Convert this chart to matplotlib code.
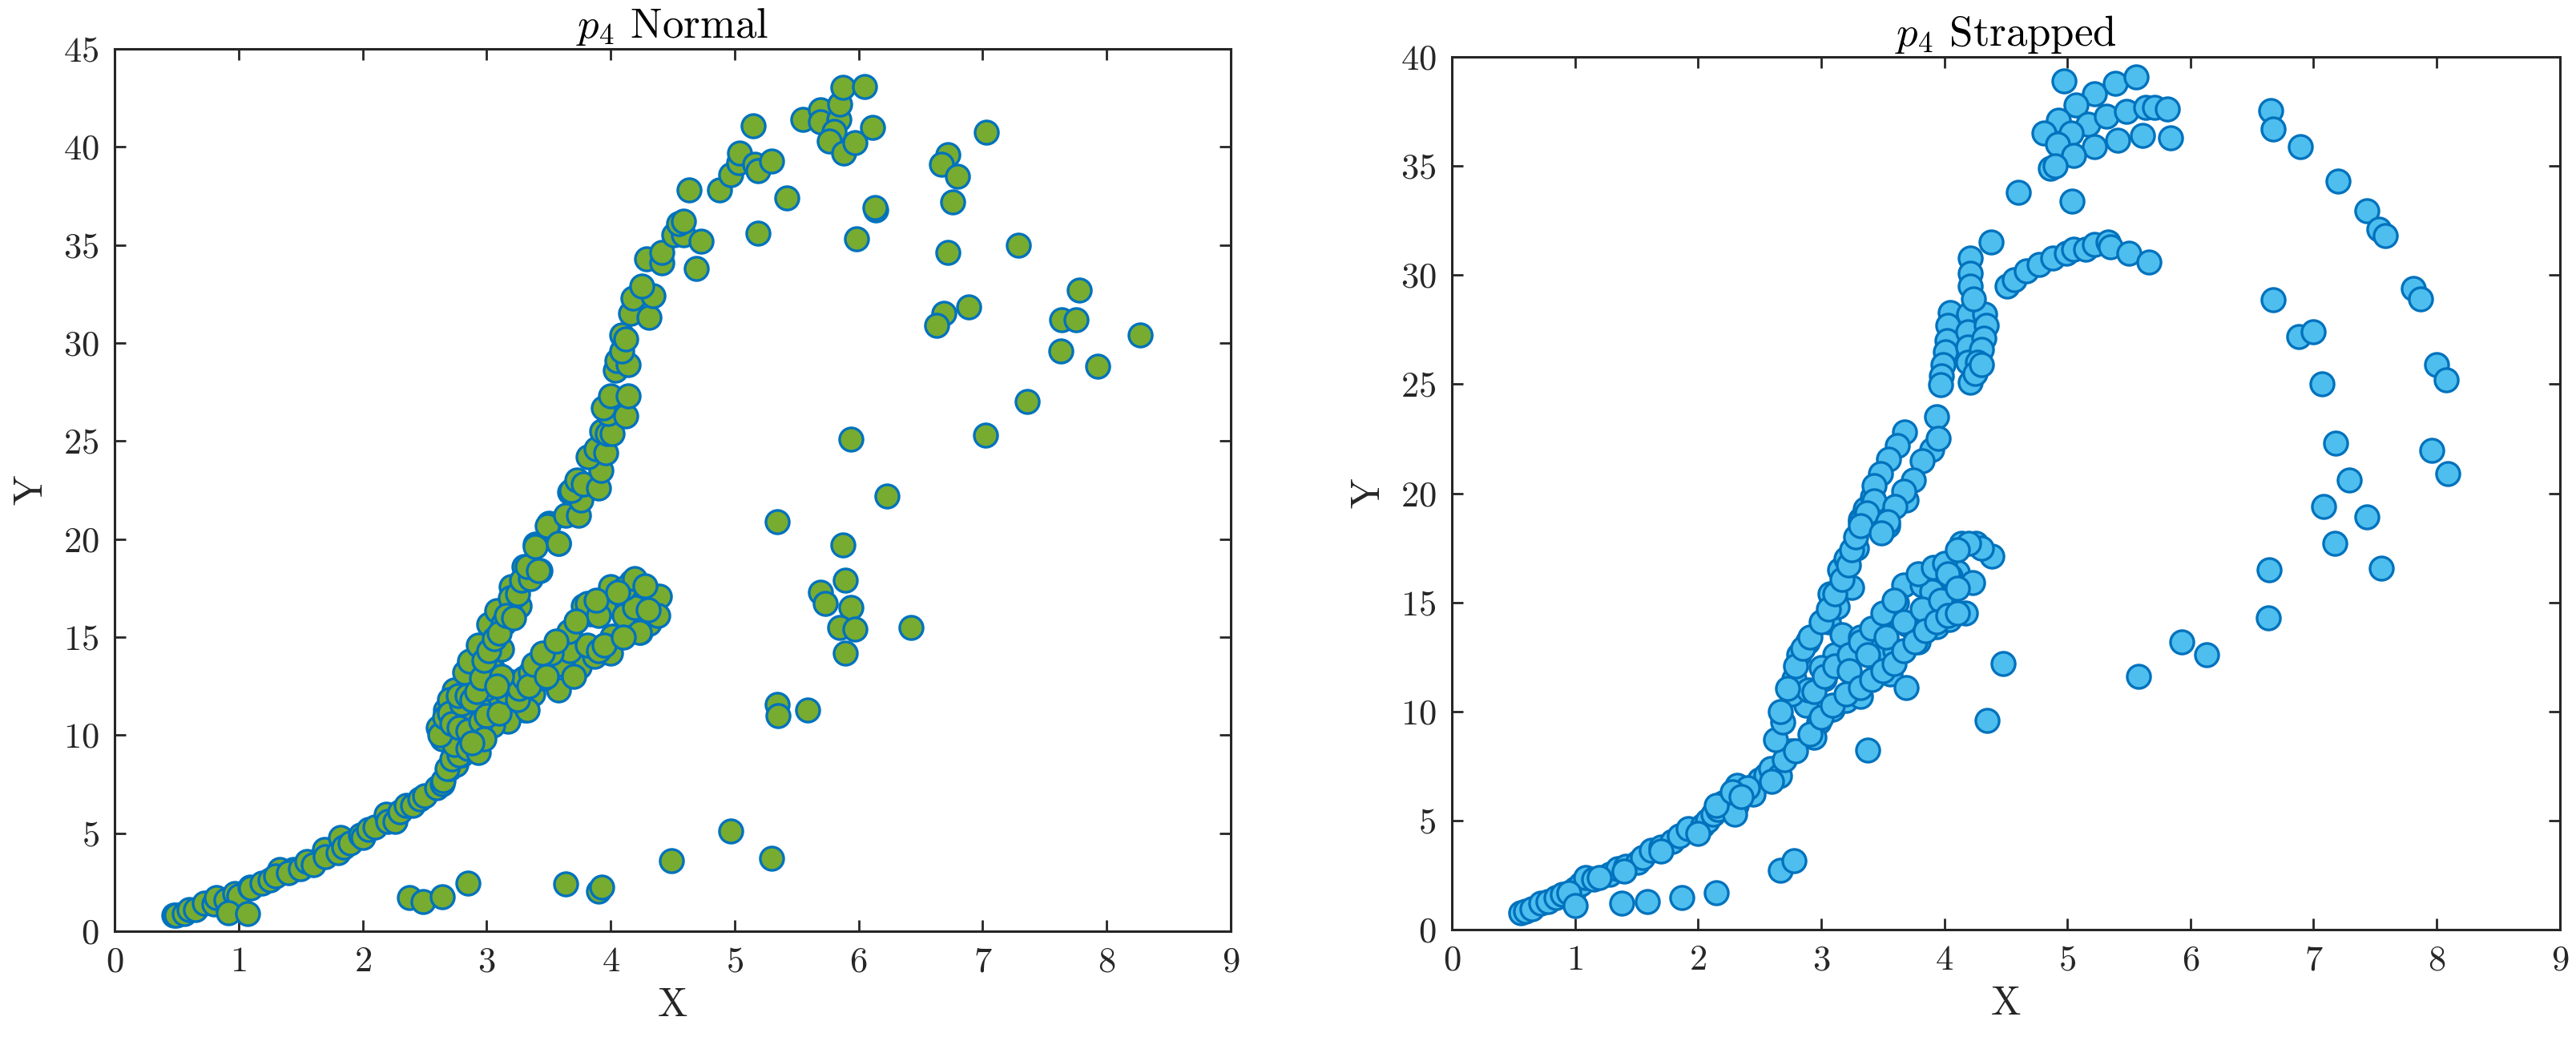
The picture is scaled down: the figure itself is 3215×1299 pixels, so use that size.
import matplotlib

matplotlib.use("Agg")
import matplotlib.pyplot as plt
import numpy as np

plt.rcParams["font.family"] = "serif"
plt.rcParams["font.serif"] = ["cmr10", "DejaVu Serif"]
plt.rcParams["mathtext.fontset"] = "cm"
plt.rcParams["axes.unicode_minus"] = False
plt.rcParams["axes.formatter.use_mathtext"] = True

# ---- p4 Normal (left) ----
normal_trunk = [(0.48, 0.82), (0.50, 0.80), (0.56, 0.90), (0.60, 1.09), (0.65, 1.10), (0.72, 1.43),
                (0.80, 1.40), (0.82, 1.70), (0.90, 1.60), (0.97, 1.91), (1.00, 1.80), (1.09, 2.25),
                (1.10, 2.20), (1.19, 2.45), (1.25, 2.60), (1.33, 3.13), (1.30, 2.80), (1.44, 3.13),
                (1.40, 3.00), (1.50, 3.20), (1.55, 3.54), (1.60, 3.40), (1.69, 4.16), (1.70, 3.80),
                (1.80, 4.00), (1.82, 4.80), (1.85, 4.30), (1.90, 4.50), (1.98, 4.90), (2.00, 4.80),
                (2.05, 5.20), (2.10, 5.30), (2.19, 5.95), (2.20, 5.60), (2.26, 5.60), (2.30, 6.10),
                (2.35, 6.40), (2.40, 6.40), (2.46, 6.75), (2.50, 6.90), (2.60, 7.30), (2.64, 7.50),
                (2.65, 7.70), (2.70, 8.30), (2.75, 8.50), (2.80, 9.00), (0.92, 0.94), (1.07, 0.90),
                (2.68, 8.3), (2.72, 8.8), (2.78, 9.0)]
normal_band = [(2.61, 10.4), (2.64, 9.8), (2.73, 10.2), (2.74, 9.54), (2.85, 9.3), (2.90, 9.67),
               (2.93, 9.1), (2.67, 11.3), (2.82, 11.2), (2.93, 11.2), (2.99, 11.4), (2.74, 12.3),
               (2.89, 12.8), (2.82, 13.2), (3.05, 13.35), (2.86, 13.76), (2.93, 14.6), (3.12, 14.4),
               (3.02, 15.67), (3.14, 15.7), (3.08, 16.35), (3.26, 16.6), (3.21, 17.0), (3.20, 17.57),
               (3.30, 18.6), (3.43, 18.4), (3.39, 19.75), (3.58, 19.8), (3.20, 12.7), (3.18, 11.4),
               (3.31, 11.3), (3.37, 12.1), (3.17, 10.7), (3.05, 10.5), (3.05, 13.3), (3.13, 15.7),
               (3.19, 17.0), (3.33, 11.3), (3.19, 12.7), (2.95, 10.0), (2.80, 10.8), (3.10, 12.0),
               (2.70, 11.8), (3.00, 12.4), (2.62, 10.0), (2.66, 10.9), (2.70, 11.1), (2.72, 10.6),
               (2.78, 10.4), (2.80, 11.6), (2.77, 12.0), (2.84, 12.0), (2.88, 11.8), (2.92, 12.2),
               (2.96, 12.9), (2.98, 13.8), (3.02, 14.3), (3.06, 14.9), (3.10, 15.2), (3.16, 16.1),
               (3.22, 16.0), (3.25, 17.2), (3.28, 17.9), (3.35, 18.0), (2.85, 10.2), (2.95, 10.7),
               (3.00, 11.0), (3.10, 11.1), (3.15, 12.2), (3.25, 11.8), (3.26, 12.4), (3.30, 12.9),
               (3.35, 13.2), (3.12, 13.0), (3.08, 12.5), (2.98, 9.8), (2.88, 9.6)]
normal_upper = [(3.33, 18.6), (3.42, 18.4), (3.39, 19.6), (3.50, 20.8), (3.49, 20.7), (3.58, 19.8),
                (3.64, 21.2), (3.74, 21.2), (3.67, 22.4), (3.76, 22.0), (3.68, 22.5), (3.73, 23.0),
                (3.78, 22.8), (3.90, 22.6), (3.92, 23.5), (3.82, 24.2), (3.88, 24.6), (3.96, 24.4),
                (3.93, 25.5), (3.97, 25.4), (4.01, 25.4), (3.96, 26.7), (3.98, 26.4), (4.12, 26.3),
                (3.94, 26.7), (4.00, 27.3), (4.14, 27.3), (4.04, 28.6), (4.05, 29.1), (4.14, 28.9),
                (4.09, 29.6), (4.09, 30.4), (4.12, 30.2), (4.16, 31.5), (4.31, 31.3), (4.18, 32.3),
                (4.34, 32.4), (4.25, 32.9), (4.29, 34.3), (4.41, 34.1), (4.41, 34.6), (4.51, 35.5),
                (4.59, 35.5), (4.55, 36.1), (4.59, 36.2), (4.73, 35.2), (4.69, 33.8), (4.63, 37.8),
                (4.88, 37.8), (4.97, 38.6), (5.03, 39.2), (5.04, 39.7), (5.16, 39.1), (5.19, 38.8),
                (5.30, 39.3), (5.42, 37.4), (5.19, 35.6), (5.15, 41.07), (5.55, 41.4), (5.69, 41.9),
                (5.69, 41.3), (5.84, 41.4), (5.85, 42.2), (5.80, 40.8), (5.76, 40.3), (5.88, 39.7),
                (5.97, 40.2), (6.11, 41.0), (5.87, 43.05), (6.05, 43.1), (6.14, 36.8), (5.98, 35.3)]
normal_loop = [(3.40, 13.56), (3.52, 14.1), (3.58, 12.3), (3.67, 15.2), (3.78, 16.6), (3.75, 13.5),
               (3.87, 14.0), (3.84, 16.2), (4.00, 17.57), (3.95, 16.5), (4.02, 15.05), (4.00, 14.2),
               (4.17, 17.8), (4.19, 17.7), (4.24, 15.25), (4.37, 17.1), (4.36, 16.1), (4.31, 15.7),
               (4.11, 16.1), (4.19, 16.5), (3.61, 13.6), (3.46, 12.9), (3.34, 12.5), (3.67, 14.3),
               (3.81, 14.6), (3.90, 14.3), (4.39, 17.1), (4.38, 16.1), (4.23, 15.25), (4.01, 15.05),
               (3.38, 13.6), (3.66, 15.3), (3.81, 16.7), (3.90, 16.1), (4.11, 17.5), (3.52, 14.2),
               (4.19, 18.0), (3.45, 14.2), (3.56, 14.8), (3.72, 15.8), (3.88, 16.9), (4.06, 17.3),
               (4.28, 17.6), (3.48, 13.0), (3.70, 13.0), (3.95, 14.6), (4.10, 15.0), (4.30, 16.4)]
normal_scatter = [(7.03, 40.75), (6.72, 39.6), (6.67, 39.1), (6.80, 38.5), (6.76, 37.2), (6.72, 34.6),
                  (7.29, 35.0), (7.78, 32.7), (7.64, 31.2), (7.75, 31.2), (8.27, 30.4), (7.63, 29.6),
                  (7.93, 28.8), (6.89, 31.85), (6.69, 31.5), (6.63, 30.9), (7.36, 27.0), (7.02, 25.3),
                  (6.42, 15.5), (6.23, 22.2), (5.94, 25.1), (5.34, 20.9), (5.87, 19.7), (5.89, 17.9),
                  (5.69, 17.3), (5.73, 16.7), (5.94, 16.5), (5.85, 15.5), (5.97, 15.4), (5.89, 14.2),
                  (5.34, 11.55), (5.35, 11.0), (5.59, 11.3), (5.30, 3.7), (4.97, 5.1), (6.13, 36.9),
                  (2.38, 1.7), (2.49, 1.5), (2.64, 1.77), (2.85, 2.45), (3.64, 2.4), (3.90, 2.04),
                  (3.93, 2.25), (4.49, 3.6)]

# ---- p4 Strapped (right) ----
strap_trunk = [(0.56, 0.76), (0.60, 0.85), (0.65, 0.95), (0.72, 1.22), (0.78, 1.30), (0.85, 1.48),
               (0.90, 1.60), (1.00, 1.87), (1.05, 2.10), (1.09, 2.40), (1.15, 2.30), (1.28, 2.53),
               (1.35, 2.80), (1.41, 2.92), (1.51, 3.10), (1.55, 3.30), (1.62, 3.65), (1.70, 3.80),
               (1.79, 4.04), (1.85, 4.30), (1.92, 4.63), (2.04, 4.76), (2.08, 5.00), (2.12, 5.29),
               (2.16, 5.50), (2.20, 5.80), (2.25, 6.00), (2.31, 5.70), (2.32, 6.60), (2.39, 6.20),
               (2.50, 6.86), (2.55, 7.10), (2.59, 7.40), (2.66, 7.06), (2.76, 8.20), (2.70, 7.80),
               (1.70, 3.60), (2.30, 5.30), (2.45, 6.20), (2.60, 6.80), (2.00, 4.40), (1.40, 2.70),
               (1.20, 2.40), (0.95, 1.70), (2.15, 5.70), (2.40, 6.50), (2.28, 6.30), (2.35, 6.10)]
strap_low = [(1.00, 1.09), (1.38, 1.22), (1.59, 1.29), (1.87, 1.47), (2.15, 1.70), (2.67, 2.73),
             (2.78, 3.15), (3.38, 8.24), (4.35, 9.6), (4.48, 12.2)]
strap_branches = [(2.63, 8.7), (2.69, 9.5), (2.88, 10.3), (2.78, 11.5), (2.76, 10.8), (2.82, 12.6),
                  (2.89, 13.2), (3.03, 11.5), (3.09, 10.1), (2.98, 9.5), (2.94, 8.8), (3.11, 12.6),
                  (3.06, 14.1), (3.17, 13.5), (3.25, 15.7), (3.29, 17.5), (3.42, 19.6), (3.32, 18.8),
                  (3.07, 15.4), (3.32, 13.4), (3.20, 10.5), (3.32, 10.7), (3.48, 13.6), (3.44, 12.8),
                  (3.60, 12.8), (3.56, 11.7), (3.69, 11.1), (3.67, 15.8), (3.82, 15.8), (3.79, 13.2),
                  (3.94, 13.9), (4.01, 15.9), (4.11, 16.4), (4.23, 15.9), (4.17, 14.5), (4.04, 14.2),
                  (4.14, 17.7), (4.26, 17.7), (4.39, 17.1), (3.53, 14.5), (3.61, 15.0), (3.54, 18.5),
                  (3.69, 19.7), (3.15, 16.5), (3.20, 17.0), (2.90, 11.0), (3.00, 12.0), (3.13, 14.8),
                  (3.85, 14.5), (3.70, 14.0), (4.30, 17.5), (4.20, 17.7), (4.05, 16.2), (3.90, 15.5),
                  # left strand
                  (2.67, 10.0), (2.73, 11.06), (2.79, 12.1), (2.85, 12.9), (2.91, 13.4), (3.00, 14.1),
                  (3.06, 14.7), (3.11, 15.4), (3.17, 16.05), (3.22, 16.7), (3.25, 17.4), (3.28, 18.0),
                  (3.32, 18.7), (3.36, 19.3), (3.42, 19.85),
                  # middle strands
                  (2.94, 10.9), (3.03, 11.6), (3.11, 12.1), (3.23, 12.6), (3.32, 13.2), (3.41, 13.8),
                  (3.50, 14.5), (3.59, 15.1), (3.79, 16.3), (3.91, 16.6), (4.00, 16.8), (4.11, 17.4),
                  (4.03, 16.3), (3.23, 11.85), (3.38, 12.6), (3.53, 13.4), (3.67, 14.1), (3.82, 14.7),
                  (3.97, 15.1), (4.11, 15.65),
                  # lower strand
                  (2.79, 8.2), (2.91, 8.96), (3.00, 9.75), (3.09, 10.3), (3.20, 10.8), (3.32, 11.1),
                  (3.41, 11.45), (3.50, 11.85), (3.59, 12.2), (3.67, 12.8), (3.76, 13.2), (3.85, 13.7),
                  (3.94, 14.1), (4.03, 14.4), (4.11, 14.5)]
strap_upper = [(3.94, 23.5), (3.68, 22.8), (3.62, 22.2), (3.55, 21.55), (3.48, 20.9), (3.43, 20.36),
               (3.43, 19.65), (3.37, 19.1), (3.32, 18.5), (3.90, 22.0), (3.95, 22.5), (3.82, 21.5),
               (3.75, 20.6), (3.67, 20.1), (3.60, 19.4), (3.54, 18.7), (3.49, 18.2),
               (4.05, 28.3), (4.03, 27.7), (4.02, 27.0), (4.01, 26.5), (3.99, 25.9), (3.98, 25.4),
               (3.97, 24.99), (4.20, 28.2), (4.19, 27.4), (4.19, 26.7), (4.19, 26.0), (4.21, 25.1),
               (4.33, 28.2), (4.34, 27.7), (4.32, 27.1), (4.30, 26.6), (4.27, 26.0), (4.21, 30.8),
               (4.21, 30.1), (4.21, 29.5), (4.24, 28.9), (4.38, 31.5), (4.25, 25.5), (4.30, 25.9)]
strap_arc = [(4.51, 29.5), (4.57, 29.8), (4.67, 30.2), (4.77, 30.5), (4.88, 30.8), (4.99, 31.0),
             (5.05, 31.2), (5.15, 31.2), (5.22, 31.4), (5.33, 31.5), (5.35, 31.3), (5.50, 31.0),
             (5.66, 30.6)]
strap_top = [(4.97, 38.9), (5.22, 38.3), (5.39, 38.8), (5.56, 39.1), (5.07, 37.8), (4.93, 37.1),
             (5.17, 36.9), (5.32, 37.3), (5.48, 37.5), (5.64, 37.7), (5.71, 37.7), (5.81, 37.6),
             (4.81, 36.5), (5.03, 36.5), (4.92, 36.0), (5.22, 35.9), (5.41, 36.2), (5.61, 36.4),
             (5.84, 36.3), (5.05, 35.5), (4.86, 34.9), (4.90, 35.0), (4.60, 33.8), (5.04, 33.4)]
strap_far = [(6.65, 37.55), (6.67, 36.7), (6.89, 35.9), (7.20, 34.3), (7.43, 32.96), (7.53, 32.1),
             (7.58, 31.8), (7.81, 29.4), (7.87, 28.9), (8.00, 25.9), (8.08, 25.2), (7.96, 21.98),
             (8.09, 20.9), (6.67, 28.87), (6.88, 27.2), (7.00, 27.4), (7.07, 25.0), (7.18, 22.3),
             (7.29, 20.6), (7.08, 19.4), (7.43, 18.9), (7.17, 17.7), (7.55, 16.55), (6.64, 16.5),
             (6.63, 14.3), (5.93, 13.2), (6.13, 12.6), (5.58, 11.6)]

normal_pts = np.array(normal_trunk + normal_band + normal_upper + normal_loop + normal_scatter)
strap_pts = np.array(strap_trunk + strap_low + strap_branches + strap_upper + strap_arc
                     + strap_top + strap_far)

EDGE = "#0072BD"
AX_COLOR = "#262626"

fig = plt.figure(figsize=(16.08, 6.495), dpi=200)
ax1 = fig.add_axes([0.0445, 0.1055, 0.4331, 0.8475])
ax2 = fig.add_axes([0.5634, 0.1070, 0.4300, 0.8383])


def style(ax, pts, face, title, ymax):
    ax.scatter(pts[:, 0], pts[:, 1], s=110, facecolor=face, edgecolor=EDGE, linewidth=1.2, zorder=3)
    ax.set_xlim(0, 9)
    ax.set_ylim(0, ymax)
    ax.set_xticks(range(0, 10))
    ax.set_yticks(range(0, ymax + 1, 5))
    ax.tick_params(direction="in", length=5, width=1.0, top=True, right=True,
                   labelsize=16, colors=AX_COLOR, pad=7)
    for sp in ax.spines.values():
        sp.set_linewidth(1.1)
        sp.set_color(AX_COLOR)
    ax.set_title(title, fontsize=19, pad=5)
    ax.set_xlabel("X", fontsize=18, color=AX_COLOR, labelpad=4)
    ax.set_ylabel("Y", fontsize=18, color=AX_COLOR, labelpad=6)


style(ax1, normal_pts, "#77AC30", r"$p_4$ Normal", 45)
style(ax2, strap_pts, "#4DBEEE", r"$p_4$ Strapped", 40)

fig.savefig("out.png", dpi=200)
